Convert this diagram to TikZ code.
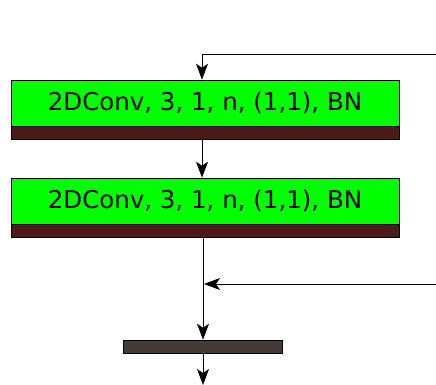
\documentclass[tikz,border=0pt]{standalone}
\usepackage{fontspec}
\setmainfont{DejaVu Sans}
\usetikzlibrary{arrows.meta,positioning}
\definecolor{convgreen}{RGB}{0,255,0}
\definecolor{bnred}{RGB}{76,26,26}
\definecolor{poolgray}{RGB}{70,57,55}
\tikzset{
  conv/.style = {draw, fill=convgreen, minimum width=388pt, minimum height=46pt, inner sep=0pt, font=\fontsize{24.5}{28}\selectfont},
  bn/.style = {draw, fill=bnred, minimum width=388pt, minimum height=13pt, inner sep=0pt},
  pool/.style = {draw, fill=poolgray, minimum width=159pt, minimum height=13pt, inner sep=0pt},
  flow/.style = {line width=0.9pt, -{Stealth[length=16pt, width=12pt, inset=4pt]}}
}
\begin{document}
\begin{tikzpicture}[x = 1pt, y = -1pt, line width = 0.6pt]
	\useasboundingbox (0,0) rectangle (436,385);
	\node[conv] (conv1) at (205,103) {2DConv, 3, 1, n, (1,1), BN};
	\node[bn, below = 0pt of conv1] (bn1) {};
	\node[conv] (conv2) at (205,201) {2DConv, 3, 1, n, (1,1), BN};
	\node[bn, below = 0pt of conv2] (bn2) {};
	\node[pool] (pool) at (203,346.5) {};
	\coordinate (in1) at (436,54); % skip input
	\coordinate (in2) at (436,284); % residual input
	\coordinate (out) at (203,385);
	\draw[flow] (in1) -| ([xshift=-3pt]conv1.north);
	\draw[flow] ([xshift=-3pt]bn1.south) -- ([xshift=-3pt]conv2.north);
	\draw[flow] (pool.north |- bn2.south) -- (pool.north);
	\draw[flow, shorten >= 1pt] (in2) -- (in2 -| pool.north);
	\draw[flow] (pool.south) -- (out);
\end{tikzpicture}
\end{document}
